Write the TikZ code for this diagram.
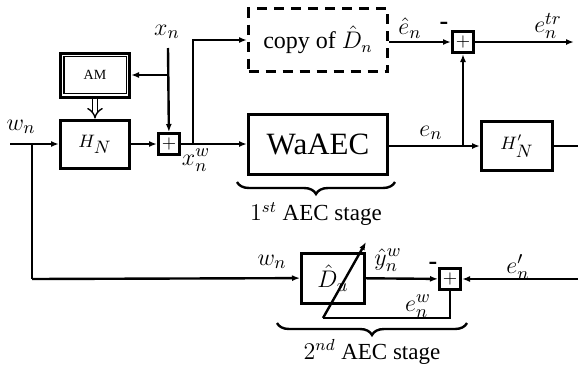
\documentclass[tikz,border=0pt]{standalone}
\usepackage{fontspec}
\setmainfont{Liberation Serif}
\usetikzlibrary{arrows.meta,decorations.pathreplacing}
\tikzset{
  blk/.style={draw, line width=1.5pt, inner sep=0pt},
  sumbox/.style={draw, line width=1.5pt, minimum size=10.5pt, inner sep=0pt, font=\small},
  brc/.style={decorate, decoration={brace, amplitude=6pt, mirror}},
  stg/.style={font=\fontsize{11.5}{14}\selectfont},
}
\begin{document}
\begin{tikzpicture}[x=0.5pt, y=-0.5pt, line width=1.2pt,
    >={Latex[length=4pt,width=3pt]}, font=\fontsize{13}{15}\selectfont]
    \useasboundingbox (0,0) rectangle (578,376);

    % blocks
    \node[blk, minimum width=34.5pt, minimum height=24pt] (hn) at (95,144) {$\scriptstyle H_{\scriptstyle N}$};
    \node[blk, minimum width=34.5pt, minimum height=22pt, font=\scriptsize] (am) at (95,75) {AM};
    \draw[line width=0.7pt] ([xshift=2.4pt,yshift=-2.4pt]am.north west) rectangle ([xshift=-2.4pt,yshift=2.4pt]am.south east);
    \node[sumbox] (s1) at (169,144) {$+$};
    \node[blk, minimum width=69.5pt, minimum height=30pt, font=\fontsize{15.5}{18}\selectfont] (wa) at (318,144) {WaAEC};
    \node[blk, dashed, dash pattern=on 5pt off 3.5pt, minimum width=69.5pt, minimum height=31.5pt,
          font=\fontsize{12}{14}\selectfont] (cp) at (318,40) {copy of $\hat{D}_n$};
    \node[sumbox] (s2) at (463,42) {$+$};
    \node[blk, minimum width=35.5pt, minimum height=24.5pt] (hp) at (517,146) {$\scriptstyle H'_{\scriptstyle N}$};
    \node[blk, minimum width=31.5pt, minimum height=25pt] (du) at (333,278) {$\hat{D}_u$};
    \node[sumbox] (s3) at (450,279) {$+$};

    % points
    \coordinate (win) at (10,144);
    \coordinate (jw) at (32,144);
    \coordinate (jwb) at (32,279);
    \coordinate (xtop) at (168,48);
    \coordinate (xam) at (168,75);
    \coordinate (jx) at (193,144);
    \coordinate (jxt) at (193,40);
    \coordinate (je) at (463,146);
    \coordinate (etr) at (574,42);
    \coordinate (hout) at (578,146);
    \coordinate (ein) at (578,279);
    \coordinate (fb1) at (450,318);
    \coordinate (fb2) at (323,318);
    \coordinate (adt) at (366,242);

    % connectors
    \draw[->] (win) -- (hn);
    \draw (jw) -- (jwb);
    \draw[->] (jwb) -- (du);
    \draw[->] (hn) -- (s1);
    \draw[->] (xtop) -- (s1);
    \draw[->] (xam) -- (am);
    \draw[double, double distance=2pt, line width=0.7pt, -{Implies}] (am) -- (hn);
    \draw[->] (s1) -- (wa);
    \draw[->] (jx) -- (jxt) -- (cp);
    \draw[->] (cp.east |- s2) -- (s2);
    \draw[->] (s2) -- (etr);
    \draw[->] (wa.east |- hp) -- (hp);
    \draw[->] (je) -- (s2);
    \draw (hp) -- (hout);
    \draw[->] (ein) -- (s3);
    \draw[->] (du) -- (s3);
    \draw (s3) -- (fb1) -- (fb2);
    \draw[->] (fb2) -- (adt);

    % labels
    \node at (21,127) {$w_n$};
    \node at (167,32) {$x_n$};
    \node at (196,160) {$x_n^w$};
    \node at (410,28) {$\hat{e}_n$};
    \node at (444,26) {\textbf{-}};
    \node at (548,26) {$e_n^{tr}$};
    \node at (431,133) {$e_n$};
    \node at (272,262) {$w_n$};
    \node at (388,260) {$\hat{y}_n^w$};
    \node at (433,266) {\textbf{-}};
    \node at (518,267) {$e'_n$};
    \node at (418,306) {$e_n^w$};

    % stages
    \draw[brc] (237,182) -- (395,182);
    \node[stg] at (316,214) {$1^{st}$ AEC stage};
    \draw[brc] (277,323) -- (467,323);
    \node[stg] at (372,352) {$2^{nd}$ AEC stage};
\end{tikzpicture}
\end{document}
